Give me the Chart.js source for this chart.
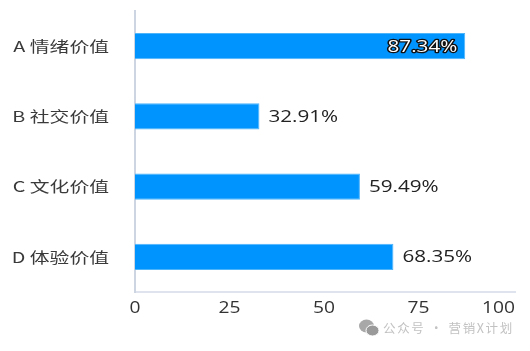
<!DOCTYPE html>
<html lang="zh">
<head>
    <meta charset="UTF-8">
    <title>价值占比</title>
    <style>
        html, body { margin: 0; padding: 0; background: #fff; overflow: hidden; }
        .wrap { position: relative; width: 530px; height: 351px; }
        .mark {
            position: absolute; left: 359px; top: 318px;
            display: flex; align-items: center;
            color: #c2c2c2; font: 12.5px "Noto Sans CJK SC", sans-serif;
            letter-spacing: 1.65px; white-space: nowrap;
        }
        .mark svg { margin-right: 4px; }
    </style>
</head>
<body>
    <div class="wrap">
        <canvas id="chart" width="530" height="351"></canvas>
        <div class="mark">
            <svg width="20" height="18" viewBox="0 0 20 18">
                <ellipse cx="7.5" cy="7" rx="7.5" ry="6.5" fill="#a8a8a8"/>
                <ellipse cx="13.5" cy="11.5" rx="6.5" ry="5.5" fill="#9a9a9a" stroke="#fff"/>
            </svg>
            <span>公众号 · 营销X计划</span>
        </div>
    </div>

    <script src="https://cdn.jsdelivr.net/npm/chart.js"></script>
    <script>
        const categories = ['A 情绪价值', 'B 社交价值', 'C 文化价值', 'D 体验价值'];
        const values = [87.34, 32.91, 59.49, 68.35];
        const xTicks = [0, 25, 50, 75, 100];

        const numFont = '16px "Open Sans", sans-serif';
        const catFont = '15px "Noto Sans CJK SC", sans-serif';

        // the source picture is stretched sideways, so text is drawn with an x scale
        function wideText(ctx, text, x, y, opts) {
            ctx.save();
            ctx.font = opts.font;
            ctx.textAlign = opts.align;
            ctx.textBaseline = 'middle';
            ctx.translate(x, y);
            ctx.scale(opts.sx, 1);
            if (opts.stroke) {
                ctx.lineWidth = 2.5;
                ctx.lineJoin = 'round';
                ctx.strokeStyle = opts.stroke;
                ctx.strokeText(text, 0, 0);
            }
            ctx.fillStyle = opts.fill;
            ctx.fillText(text, 0, 0);
            ctx.restore();
        }

        const labelPlugin = {
            id: 'labelPlugin',
            afterDatasetsDraw(chart) {
                const ctx = chart.ctx;
                const xScale = chart.scales.x;
                const yScale = chart.scales.y;
                chart.getDatasetMeta(0).data.forEach((bar, i) => {
                    const text = values[i].toFixed(2) + '%';
                    if (values[i] > 80) {
                        wideText(ctx, text, bar.x - 8, bar.y + 1, { font: numFont, align: 'right', sx: 1.29, fill: '#fff', stroke: '#111' });
                    } else {
                        wideText(ctx, text, bar.x + 9, bar.y + 1, { font: numFont, align: 'left', sx: 1.29, fill: '#222' });
                    }
                });
                categories.forEach((c, i) => {
                    wideText(ctx, c, 109, yScale.getPixelForValue(i), { font: catFont, align: 'right', sx: 1.32, fill: '#3a3a3a' });
                });
                xTicks.forEach(t => {
                    const x = t === 100 ? xScale.right : xScale.getPixelForValue(t);
                    wideText(ctx, String(t), x, 308, { font: numFont, align: t === 100 ? 'right' : 'center', sx: 1.2, fill: '#333' });
                });
            }
        };

        new Chart(document.getElementById('chart').getContext('2d'), {
            type: 'bar',
            data: {
                labels: categories,
                datasets: [{
                    data: values,
                    backgroundColor: '#0094ff',
                    borderColor: '#4db4fa',
                    borderWidth: 1,
                    barPercentage: 0.375,
                    categoryPercentage: 1
                }]
            },
            options: {
                indexAxis: 'y',
                responsive: false,
                animation: false,
                layout: { padding: { top: 11, right: 15 } },
                plugins: { legend: { display: false }, tooltip: { enabled: false } },
                scales: {
                    x: {
                        min: 0,
                        max: 100.5,
                        grid: { display: false },
                        border: { color: '#dfe3ee', width: 2 },
                        ticks: { display: false },
                        afterFit(scale) { scale.height = 59; }
                    },
                    y: {
                        grid: { display: false },
                        border: { color: '#cdd5e2', width: 2 },
                        ticks: { display: false },
                        afterFit(scale) { scale.width = 135; }
                    }
                }
            },
            plugins: [labelPlugin]
        });
    </script>
</body>
</html>
